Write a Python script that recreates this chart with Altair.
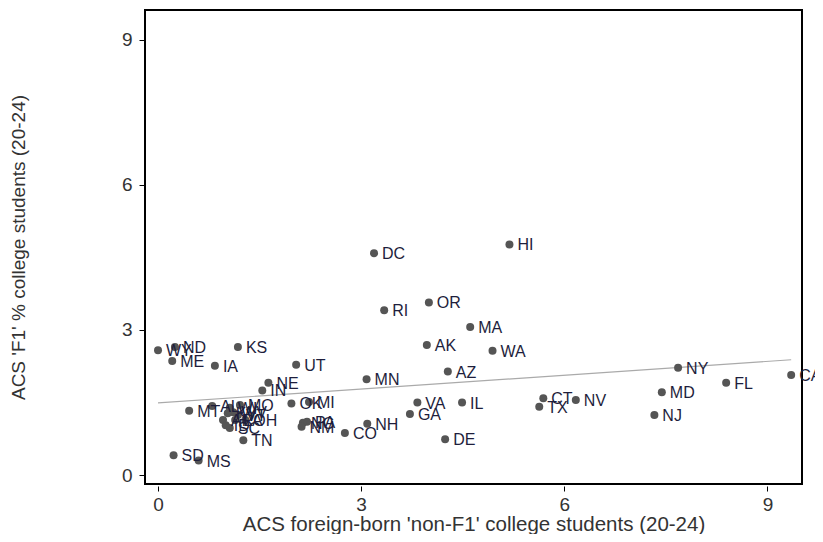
import altair as alt
import pandas as pd

states = ["WY", "ND", "ME", "IA", "KS", "UT", "MN", "NE", "IN", "OK", "MI", "MT",
          "AL", "MO", "PA", "NC", "NM", "CO", "NH", "SD", "MS", "TN", "SC", "OH",
          "WV", "VT", "KY", "WI", "AR", "LA", "ID", "HI", "DC", "RI", "OR", "MA",
          "AK", "WA", "AZ", "NY", "CA", "FL", "MD", "NJ", "NV", "CT", "TX", "IL",
          "VA", "GA", "DE"]
non_f1 = [0.00, 0.25, 0.21, 0.84, 1.18, 2.04, 3.08, 1.63, 1.54, 1.97, 2.23, 0.46,
          0.80, 1.21, 2.20, 2.14, 2.12, 2.76, 3.09, 0.23, 0.60, 1.26, 1.06, 1.29,
          1.11, 1.18, 1.03, 1.06, 0.96, 1.14, 1.00, 5.19, 3.19, 3.34, 4.00, 4.61,
          3.97, 4.94, 4.28, 7.68, 9.35, 8.39, 7.44, 7.33, 6.17, 5.69, 5.63, 4.49,
          3.83, 3.72, 4.24]
f1_pct = [2.58, 2.65, 2.36, 2.26, 2.65, 2.28, 1.98, 1.91, 1.75, 1.48, 1.51, 1.33,
          1.43, 1.45, 1.10, 1.08, 1.00, 0.87, 1.06, 0.41, 0.30, 0.72, 0.97, 1.14,
          1.30, 1.24, 1.28, 1.39, 1.14, 1.14, 1.03, 4.77, 4.59, 3.41, 3.57, 3.06,
          2.69, 2.57, 2.14, 2.22, 2.07, 1.91, 1.71, 1.24, 1.55, 1.59, 1.41, 1.50,
          1.50, 1.26, 0.74]
tick_values = [0, 3, 6, 9]

df = pd.DataFrame({"state": states, "x": non_f1, "y": f1_pct})

FONT = "Liberation Sans"
xenc = alt.X("x:Q",
             scale=alt.Scale(domain=[-0.192, 9.51], nice=False, zero=False),
             axis=alt.Axis(values=tick_values, title="ACS foreign-born 'non-F1' college students (20-24)",
                           grid=False, domain=False, tickSize=5, offset=2, tickColor="black",
                           labelFontSize=19, titleFontSize=20.5, titleFontWeight="normal",
                           labelFont=FONT, titleFont=FONT, labelColor="#333333", titleColor="#333333",
                           labelPadding=4, titlePadding=0))
yenc = alt.Y("y:Q",
             scale=alt.Scale(domain=[-0.186, 9.62], nice=False, zero=False),
             axis=alt.Axis(values=tick_values, title="ACS 'F1' % college students (20-24)",
                           grid=False, domain=False, tickSize=6, tickColor="black",
                           labelFontSize=19, titleFontSize=19, titleFontWeight="normal",
                           labelFont=FONT, titleFont=FONT, labelColor="#333333", titleColor="#333333",
                           labelPadding=7, titlePadding=93))

base = alt.Chart(df)

fit = base.transform_regression("x", "y").mark_line(color="#aaaaaa", strokeWidth=1.2).encode(x=xenc, y=yenc)
points = base.mark_circle(size=64, color="#555555", opacity=1).encode(x=xenc, y=yenc)
labels = base.mark_text(align="left", baseline="middle", dx=8, dy=1, fontSize=16, font=FONT,
                        color="#1e1e3c").encode(x=xenc, y=yenc, text="state:N")

chart = alt.layer(fit, points, labels).properties(
    width=657, height=474,
    background="white",
    autosize=alt.AutoSizeParams(type="none"),
    padding={"left": 137, "top": 2, "right": 13, "bottom": 50},
).configure_view(stroke="black", strokeWidth=2)

chart.save("out.html", embed_options={"renderer": "svg", "actions": False})
